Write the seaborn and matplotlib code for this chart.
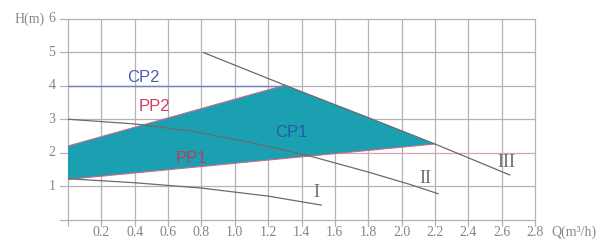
import numpy as np
import pandas as pd
import seaborn as sns
import matplotlib.pyplot as plt

sns.set_style("white")

# pump curves I, II, III  (Q in m3/h, H in m)
q_1 = [0.0, 0.4, 0.8, 1.2, 1.52]
h_1 = [1.22, 1.10, 0.94, 0.70, 0.43]
q_2 = [0.0, 0.4, 0.75, 1.1, 1.45, 1.8, 2.05, 2.22]
h_2 = [3.0, 2.86, 2.64, 2.30, 1.90, 1.42, 1.05, 0.77]
q_3 = [0.81, 1.3, 1.8, 2.2, 2.65]
h_3 = [5.0, 4.02, 3.05, 2.26, 1.33]

# operating area (PP2 edge, curve III, PP1 edge)
area_q = [0.0, 1.3, 1.8, 2.2, 0.0]
area_h = [2.2, 4.02, 3.05, 2.26, 1.2]

cp2_q = [0.0, 1.3]
cp2_h = [4.0, 4.0]

xticks = [0.2, 0.4, 0.6, 0.8, 1.0, 1.2, 1.4, 1.6, 1.8, 2.0, 2.2, 2.4, 2.6, 2.8]
yticks = [1, 2, 3, 4, 5, 6]

curves = pd.concat([
    pd.DataFrame({"Q": q_1, "H": h_1, "curve": "I"}),
    pd.DataFrame({"Q": q_2, "H": h_2, "curve": "II"}),
    pd.DataFrame({"Q": q_3, "H": h_3, "curve": "III"}),
])

fig = plt.figure(figsize=(6.09, 2.45), dpi=100)
ax = fig.add_axes([68 / 609, 1 - 219.5 / 245, 467 / 609, 200.5 / 245])

grid_c = "#b4b4b4"
for x in [0] + xticks:
    ax.plot([x, x], [-0.18, 6], color=grid_c, lw=0.9, zorder=0, clip_on=False)
for y in [0] + yticks:
    ax.plot([-0.05, 2.8], [y, y], color="#d9a3b5" if y == 2 else grid_c,
            lw=0.9, zorder=0, clip_on=False)

ax.fill(area_q, area_h, color="#1ba0b2", lw=0, zorder=1)
ax.plot(area_q[:2], area_h[:2], color="#c86a8a", lw=0.8, zorder=2)
ax.plot(area_q[3:], area_h[3:], color="#c86a8a", lw=0.8, zorder=2)
sns.lineplot(data=pd.DataFrame({"Q": cp2_q, "H": cp2_h}), x="Q", y="H",
             color="#6f7fc8", lw=1.0, ax=ax, zorder=2)

sns.lineplot(data=curves, x="Q", y="H", units="curve", estimator=None,
             sort=False, color="#6b6b6b", lw=0.9, ax=ax, zorder=3)

ax.set_xlim(0, 2.8)
ax.set_ylim(0, 6)
for s in ax.spines.values():
    s.set_visible(False)
ax.set_xlabel("")
ax.set_ylabel("")
ax.set_xticks([])
ax.set_yticks([])

serif = dict(family="Liberation Serif", color="#858585", fontsize=10)
for x in xticks:
    ax.text(x, -0.38, f"{x:.1f}", ha="center", va="center", **serif)
for y in yticks:
    ax.text(-0.075, y, str(y), ha="right", va="center", **serif)
ax.text(-0.14, 6, "H(m)", ha="right", va="center", **serif)
ax.text(2.9, -0.38, "Q(m³/h)", ha="left", va="center", **serif)

sans = dict(family="Liberation Sans", fontsize=12)
ax.text(0.45, 4.26, "CP2", color="#4a5fb0", ha="center", va="center", **sans)
ax.text(0.52, 3.38, "PP2", color="#d04060", ha="center", va="center", **sans)
ax.text(1.34, 2.6, "CP1", color="#2a5aa8", ha="center", va="center", **sans)
ax.text(0.74, 1.83, "PP1", color="#c03a5a", ha="center", va="center", **sans)
roman = dict(family="Liberation Serif", fontsize=13, color="#707070")
ax.text(1.49, 0.8, "I", ha="center", va="center", **roman)
ax.text(2.14, 1.24, "II", ha="center", va="center", **roman)
ax.text(2.63, 1.72, "III", ha="center", va="center", **roman)

fig.savefig("out.png", dpi=100)
